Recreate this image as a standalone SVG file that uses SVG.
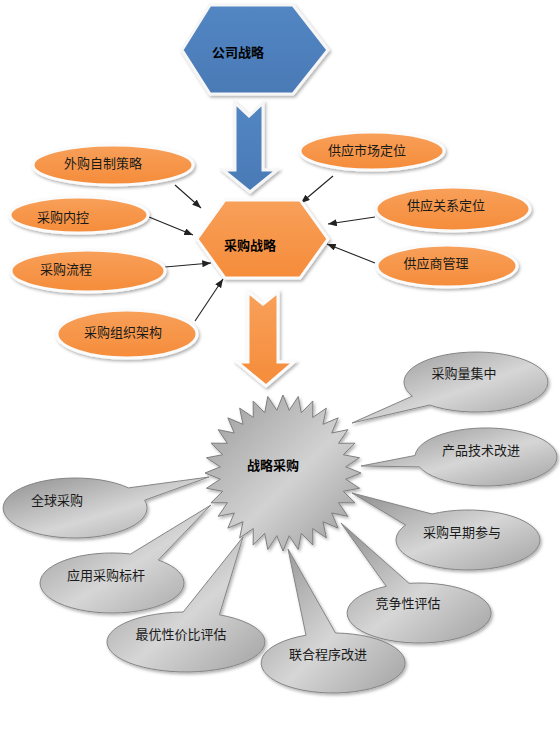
<svg xmlns="http://www.w3.org/2000/svg" width="560" height="750" viewBox="0 0 560 750">
<defs>
<style>
.t{font-family:"Liberation Sans","Noto Sans CJK SC",sans-serif;font-size:13px;fill:#1a1a1a;text-anchor:middle}
.b{font-weight:bold;fill:#000}
.or{fill:url(#og);stroke:#fbfbfb;stroke-width:3;filter:url(#sh)}
.gr{fill:url(#gg);stroke:#858585;stroke-width:1;filter:url(#sh)}
.cn{stroke:#222;stroke-width:1.1;fill:none;marker-end:url(#ah)}
</style>
<linearGradient id="og" x1="0" y1="0" x2="0" y2="1">
<stop offset="0" stop-color="#f8a05a"/><stop offset="1" stop-color="#f58c3a"/>
</linearGradient>
<linearGradient id="bg" x1="0" y1="0" x2="0" y2="1">
<stop offset="0" stop-color="#5286c3"/><stop offset="1" stop-color="#4a7ab6"/>
</linearGradient>
<linearGradient id="gg" x1="0" y1="0" x2="1" y2="1">
<stop offset="0" stop-color="#8f8f8f"/><stop offset="0.55" stop-color="#d6d6d6"/><stop offset="1" stop-color="#a3a3a3"/>
</linearGradient>
<linearGradient id="sg" x1="0" y1="0" x2="1" y2="1">
<stop offset="0" stop-color="#9a9a9a"/><stop offset="0.55" stop-color="#d2d2d2"/><stop offset="1" stop-color="#989898"/>
</linearGradient>
<filter id="sh" x="-20%" y="-20%" width="140%" height="150%">
<feDropShadow dx="1.5" dy="2" stdDeviation="1.5" flood-color="#000" flood-opacity="0.3"/>
</filter>
<marker id="ah" viewBox="0 0 10 8" refX="10" refY="4" markerWidth="9" markerHeight="7" markerUnits="userSpaceOnUse" orient="auto">
<path d="M0,0 L10,4 L0,8 Z" fill="#222"/>
</marker>
</defs>
<rect width="560" height="750" fill="#fff"/>

<g id="connectors">
<polygon points="235,103 249,116 263,103 263,170 277,170 250,192 223,170 235,170" fill="url(#bg)" stroke="#f6f6f6" stroke-width="3" filter="url(#sh)"/>
<polygon points="248,292 263,304 278,292 278,362 294,362 266,386 237,362 248,362" fill="url(#og)" stroke="#fbfbfb" stroke-width="3" filter="url(#sh)"/>
<line class="cn" x1="175" y1="185" x2="201" y2="208"/>
<line class="cn" x1="149" y1="217" x2="193" y2="235"/>
<line class="cn" x1="165" y1="267" x2="211" y2="263"/>
<line class="cn" x1="195" y1="321" x2="223" y2="279"/>
<line class="cn" x1="333" y1="176" x2="301" y2="203"/>
<line class="cn" x1="375" y1="217" x2="328" y2="224"/>
<line class="cn" x1="375" y1="263" x2="327" y2="244"/>
</g>

<g id="n-corp">
<polygon points="210,5 293,5 328,50 293,94 210,94 182,50" fill="url(#bg)" stroke="#f6f6f6" stroke-width="3" filter="url(#sh)"/>
<text class="t b" x="238" y="56.5">公司战略</text>
</g>

<g id="n-purchase">
<polygon class="or" points="225,200 300,200 328,239 300,278 225,278 197,239"/>
<text class="t b" x="250" y="249.5">采购战略</text>
</g>

<g id="n-make"><ellipse class="or" cx="113" cy="165" rx="80" ry="20"/><text class="t" x="103" y="167.5">外购自制策略</text></g>
<g id="n-control"><ellipse class="or" cx="79" cy="215" rx="69" ry="18"/><text class="t" x="63" y="221.5">采购内控</text></g>
<g id="n-process"><ellipse class="or" cx="88" cy="271" rx="77" ry="21"/><text class="t" x="66" y="273.5">采购流程</text></g>
<g id="n-org"><ellipse class="or" cx="127" cy="334" rx="70" ry="24"/><text class="t" x="123" y="336.5">采购组织架构</text></g>
<g id="n-market"><ellipse class="or" cx="372" cy="151" rx="72" ry="19"/><text class="t" x="367" y="154.5">供应市场定位</text></g>
<g id="n-relation"><ellipse class="or" cx="453" cy="209" rx="77" ry="22"/><text class="t" x="446" y="209.5">供应关系定位</text></g>
<g id="n-supplier"><ellipse class="or" cx="447" cy="266" rx="70" ry="21"/><text class="t" x="436" y="267.5">供应商管理</text></g>

<g id="n-strategic">
<polygon transform="translate(283,473)" fill="url(#sg)" stroke="#7d7d7d" stroke-width="1" filter="url(#sh)" points="0,-78 6.18,-62.7 15.22,-76.5 18.29,-60.29 29.85,-72.06 29.7,-55.56 43.33,-64.85 39.97,-48.7 55.15,-55.15 48.7,-39.97 64.85,-43.33 55.56,-29.7 72.06,-29.85 60.29,-18.29 76.5,-15.22 62.7,-6.18 78,0 62.7,6.18 76.5,15.22 60.29,18.29 72.06,29.85 55.56,29.7 64.85,43.33 48.7,39.97 55.15,55.15 39.97,48.7 43.33,64.85 29.7,55.56 29.85,72.06 18.29,60.29 15.22,76.5 6.18,62.7 0,78 -6.18,62.7 -15.22,76.5 -18.29,60.29 -29.85,72.06 -29.7,55.56 -43.33,64.85 -39.97,48.7 -55.15,55.15 -48.7,39.97 -64.85,43.33 -55.56,29.7 -72.06,29.85 -60.29,18.29 -76.5,15.22 -62.7,6.18 -78,0 -62.7,-6.18 -76.5,-15.22 -60.29,-18.29 -72.06,-29.85 -55.56,-29.7 -64.85,-43.33 -48.7,-39.97 -55.15,-55.15 -39.97,-48.7 -43.33,-64.85 -29.7,-55.56 -29.85,-72.06 -18.29,-60.29 -15.22,-76.5 -6.18,-62.7"/>
<text class="t b" x="273" y="469.5">战略采购</text>
</g>

<g id="n-volume"><path class="gr" d="M429.7,405 L352,423 L412.4,396.1 A72,30 0 1 1 429.7,405 Z"/><text class="t" x="464" y="377.5">采购量集中</text></g>
<g id="n-tech"><path class="gr" d="M419.3,466.9 L361,466 L415.1,455.5 A71,29 0 1 1 419.3,466.9 Z"/><text class="t" x="481" y="454.5">产品技术改进</text></g>
<g id="n-early"><path class="gr" d="M405.6,525 L352,493 L432,514 A72,30 0 1 1 405.6,525 Z"/><text class="t" x="462" y="536.5">采购早期参与</text></g>
<g id="n-compete"><path class="gr" d="M386.3,586.3 L341,523 L409,583.3 A72,30 0 1 1 386.3,586.3 Z"/><text class="t" x="408" y="607.5">竞争性评估</text></g>
<g id="n-joint"><path class="gr" d="M306,635.2 L288,549 L335.5,633 A72,30 0 1 1 306,635.2 Z"/><text class="t" x="328" y="658.5">联合程序改进</text></g>
<g id="n-value"><path class="gr" d="M183.2,612 L243,537 L219.4,614.8 A79,30 0 1 1 183.2,612 Z"/><text class="t" x="181" y="638.5">最优性价比评估</text></g>
<g id="n-bench"><path class="gr" d="M130.6,554 L211,505 L158.3,560 A72,30 0 1 1 130.6,554 Z"/><text class="t" x="106" y="579.5">应用采购标杆</text></g>
<g id="n-global"><path class="gr" d="M128.5,487.9 L209,477 L144.6,500.2 A72,30 0 1 1 128.5,487.9 Z"/><text class="t" x="57" y="504.5">全球采购</text></g>
</svg>
